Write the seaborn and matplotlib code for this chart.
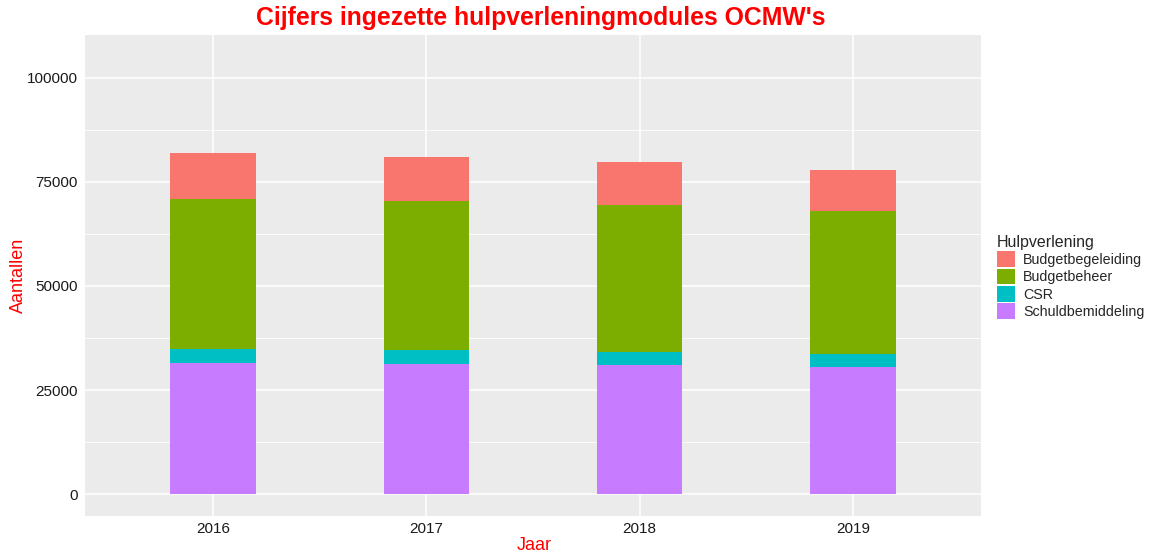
import numpy as np
import pandas as pd
import matplotlib
matplotlib.use('Agg')
import matplotlib.pyplot as plt
import seaborn as sns
from matplotlib.patches import Patch
from matplotlib.ticker import MultipleLocator

# Data (counts per year)
years = ['2016', '2017', '2018', '2019']
schuldbemiddeling = [31490, 31250, 31010, 30530]
csr = [3370, 3290, 3200, 3200]
budgetbeheer = [36060, 35730, 35100, 34140]
budgetbegeleiding = [10980, 10580, 10430, 9950]

categories = ['Budgetbegeleiding', 'Budgetbeheer', 'CSR', 'Schuldbemiddeling']
colors = ['#F8766D', '#7CAE00', '#00BFC4', '#C77CFF']

df = pd.DataFrame({
    'Jaar': years,
    'Schuldbemiddeling': schuldbemiddeling,
    'CSR': csr,
    'Budgetbeheer': budgetbeheer,
    'Budgetbegeleiding': budgetbegeleiding,
})

# cumulative tops for stacking (bottom to top: Schuld, CSR, Beheer, Begeleiding)
stack_order = ['Schuldbemiddeling', 'CSR', 'Budgetbeheer', 'Budgetbegeleiding']
cum = df[stack_order].cumsum(axis=1)

sns.set_theme(style='darkgrid')
plt.rcParams['font.family'] = ['Liberation Sans', 'DejaVu Sans']

fig = plt.figure(figsize=(11.5, 5.53), dpi=100)
ax = fig.add_axes([85 / 1150, 1 - 516 / 553, (981 - 85) / 1150, (516 - 35) / 553])
ax.set_facecolor('#EBEBEB')

# draw tallest first so shorter layers sit on top
for cat in reversed(stack_order):
    col = colors[categories.index(cat)]
    sns.barplot(x=df['Jaar'], y=cum[cat], color=col, width=0.4, ax=ax,
                saturation=1, linewidth=0, zorder=3)

ax.set_xlim(-0.6, 3.6)
ax.set_ylim(-5250, 110250)
ax.yaxis.set_minor_locator(MultipleLocator(12500))
ax.set_yticks([0, 25000, 50000, 75000, 100000])
ax.set_yticklabels(['0', '25000', '50000', '75000', '100000'])

ax.grid(which='major', color='white', linewidth=1.1, zorder=0)
ax.grid(which='minor', axis='y', color='white', linewidth=0.55, zorder=0)
ax.set_axisbelow(True)
for s in ax.spines.values():
    s.set_visible(False)

ax.tick_params(axis='both', which='major', length=3, width=0.8, color='#333333',
               labelsize=11, labelcolor='#1A1A1A', pad=2)
ax.tick_params(axis='x', pad=1)
ax.tick_params(which='minor', length=0)

ax.set_xlabel('')
ax.set_ylabel('')
fig.text(534 / 1150, 1 - 545 / 553, 'Jaar', color='red', fontsize=13,
         ha='center', va='center')
fig.text(18 / 1150, 1 - 275 / 553, 'Aantallen', color='red', fontsize=13,
         ha='center', va='center', rotation=90)

fig.text(541 / 1150, 1 - 18 / 553, "Cijfers ingezette hulpverleningmodules OCMW's",
         color='red', fontsize=17.8, fontweight='bold', ha='center', va='center')

handles = [Patch(facecolor=c, edgecolor='none', label=l) for c, l in zip(colors, categories)]
leg = fig.legend(handles=handles, title='Hulpverlening', loc='upper left',
                 bbox_to_anchor=(991 / 1150, 1 - 229 / 553), frameon=False,
                 fontsize=10.3, title_fontsize=11.5, handlelength=1.25, handleheight=1.3,
                 handletextpad=0.6, labelspacing=0.12, borderaxespad=0)
leg._legend_box.align = 'left'

fig.savefig('out.png', dpi=100)
